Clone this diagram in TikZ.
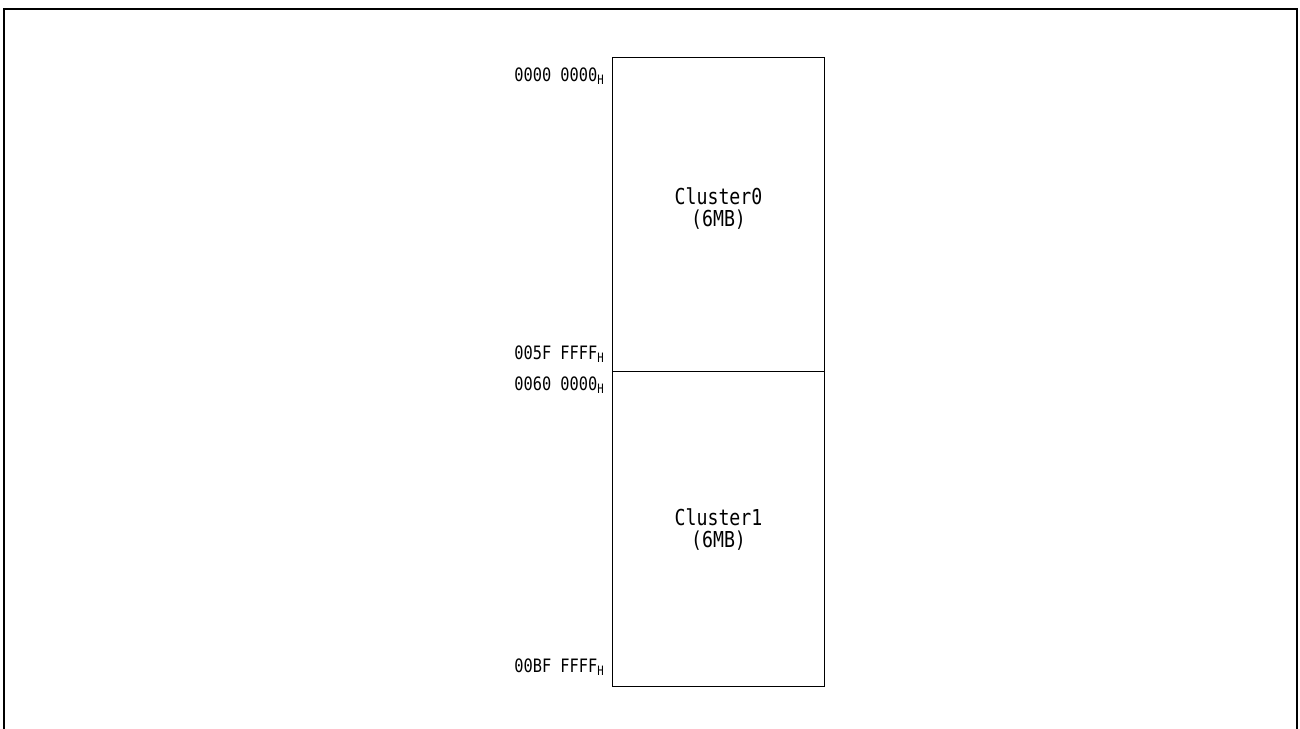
\documentclass[tikz,border=0pt]{standalone}
\usepackage{fontspec}
\newfontfamily\gothic{DejaVu Sans Mono}[FakeStretch=0.83]
\usetikzlibrary{positioning}

\begin{document}
\begin{tikzpicture}[
  x=0.02cm, y=-0.02cm,
  font=\gothic,
  frame/.style={line width=1.6pt},
  cluster/.style={draw, line width=0.6pt, align=center, minimum width=4.24cm, minimum height=6.29cm, inner sep=0pt, font=\gothic\fontsize{12.5}{12.5}\selectfont},
  addr/.style={anchor=east, inner sep=0pt, font=\gothic\fontsize{10.5}{12}\selectfont}
]
\useasboundingbox (0,0) rectangle (1300,729);
\draw[frame] (4,729) -- (4,9) -- (1297,9) -- (1297,729);

\node[cluster, anchor=north west] (cluster0) at (612,57) {Cluster0\\(6MB)\\[-3.5pt]};
\node[cluster, below=-0.6pt of cluster0] (cluster1) {Cluster1\\(6MB)};

\node[addr] (top0) at ([xshift=-0.14cm, yshift=-0.38cm]cluster0.north west) {0000 0000\textsubscript{H}};
\node[addr] (end0) at ([xshift=-0.14cm, yshift=0.36cm]cluster0.south west) {005F FFFF\textsubscript{H}};
\node[addr] (top1) at ([xshift=-0.14cm, yshift=-0.28cm]cluster1.north west) {0060 0000\textsubscript{H}};
\node[addr] (end1) at ([xshift=-0.14cm, yshift=0.40cm]cluster1.south west) {00BF FFFF\textsubscript{H}};
\end{tikzpicture}
\end{document}
